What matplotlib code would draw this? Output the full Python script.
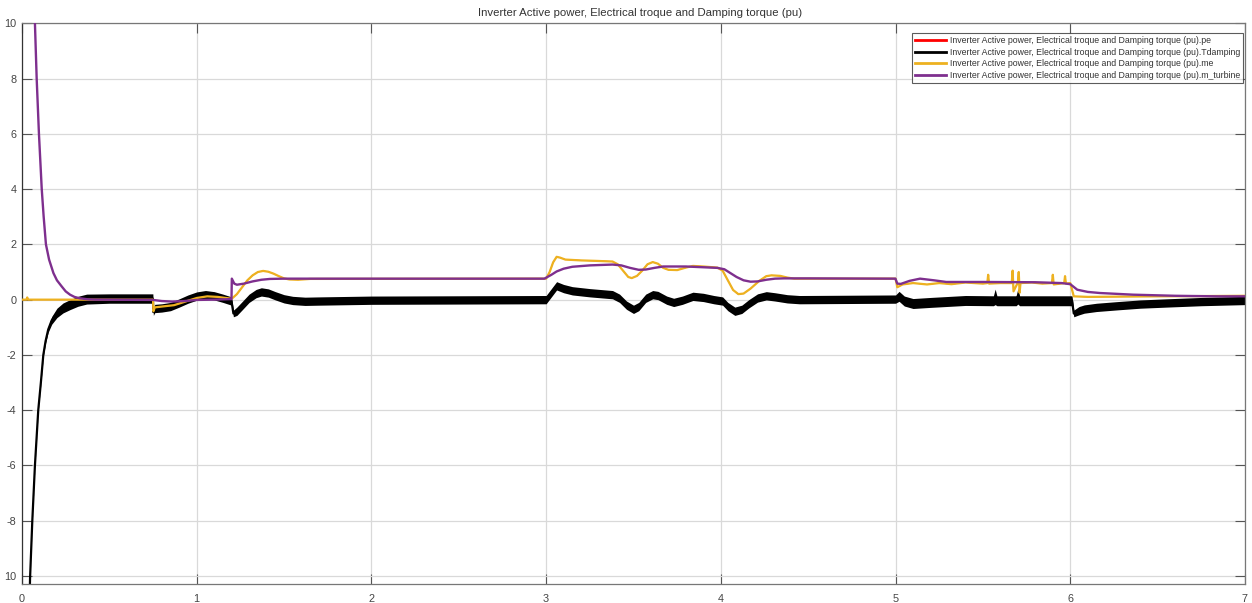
import matplotlib
matplotlib.use("Agg")
import matplotlib.pyplot as plt
import numpy as np

plt.rcParams['font.family'] = ['Liberation Sans', 'DejaVu Sans']

TITLE = "Inverter Active power, Electrical troque and Damping torque (pu)"
LABELS = [TITLE + ".pe", TITLE + ".Tdamping", TITLE + ".me", TITLE + ".m_turbine"]

x_ticks = [0, 1, 2, 3, 4, 5, 6, 7]
y_ticks = [-10, -8, -6, -4, -2, 0, 2, 4, 6, 8, 10]
y_tick_labels = ["10", "-8", "-6", "-4", "-2", "0", "2", "4", "6", "8", "10"]

# m_turbine
t_turb = [0.064, 0.074, 0.084, 0.097, 0.105, 0.113, 0.124, 0.137, 0.155, 0.18, 0.20,
          0.227, 0.25, 0.275, 0.30, 0.33, 0.38, 0.42, 0.75, 0.80, 0.86, 0.93, 1.00,
          1.10, 1.199, 1.201, 1.215, 1.23, 1.27, 1.32, 1.37, 1.42, 1.50, 2.99, 3.03,
          3.06, 3.10, 3.15, 3.25, 3.38, 3.43, 3.48, 3.53, 3.57, 3.62, 3.67, 3.80,
          3.98, 4.02, 4.05, 4.09, 4.13, 4.17, 4.21, 4.26, 4.31, 4.36, 4.50, 4.999,
          5.01, 5.03, 5.08, 5.14, 5.22, 5.29, 5.50, 5.80, 5.95, 6.00, 6.04, 6.10,
          6.17, 6.36, 6.60, 6.84, 7.00]
m_turbine = [11.0, 10.0, 8.0, 6.0, 5.0, 4.0, 3.0, 2.0, 1.45, 0.96, 0.70,
             0.48, 0.30, 0.18, 0.10, 0.05, 0.01, 0.0, -0.01, -0.05, -0.07, -0.05, -0.01,
             0.0, 0.02, 0.76, 0.58, 0.54, 0.58, 0.66, 0.72, 0.75, 0.76, 0.76, 0.90,
             1.02, 1.12, 1.19, 1.24, 1.27, 1.24, 1.15, 1.08, 1.09, 1.15, 1.20, 1.20,
             1.15, 1.10, 0.98, 0.82, 0.70, 0.65, 0.66, 0.72, 0.76, 0.77, 0.77, 0.76,
             0.58, 0.57, 0.68, 0.76, 0.70, 0.64, 0.64, 0.63, 0.60, 0.56, 0.36, 0.28,
             0.24, 0.18, 0.14, 0.12, 0.12]

# me
t_me = [0.0, 0.025, 0.03, 0.035, 0.75, 0.752, 0.76, 0.80, 0.87, 0.93, 1.00, 1.06,
        1.12, 1.19, 1.20, 1.23, 1.26, 1.29, 1.32, 1.35, 1.38, 1.41, 1.44, 1.47,
        1.50, 1.53, 1.58, 1.65, 3.00, 3.02, 3.04, 3.06, 3.08, 3.11, 3.20, 3.30,
        3.38, 3.41, 3.44, 3.47, 3.49, 3.52, 3.55, 3.58, 3.61, 3.64, 3.67, 3.70,
        3.75, 3.80, 3.84, 3.90, 3.98, 4.01, 4.04, 4.07, 4.10, 4.13, 4.17, 4.22,
        4.26, 4.29, 4.34, 4.38, 4.42, 5.00, 5.01, 5.04, 5.10, 5.18, 5.25, 5.32,
        5.40, 5.50, 5.525, 5.53, 5.535, 5.60, 5.665, 5.67, 5.675, 5.70, 5.705,
        5.71, 5.715, 5.78, 5.84, 5.895, 5.90, 5.905, 5.965, 5.97, 5.975, 6.00,
        6.02, 6.10, 6.50, 7.00]
me = [0.0, 0.0, 0.08, 0.0, 0.0, -0.42, -0.28, -0.25, -0.20, -0.08, 0.06, 0.12,
      0.10, 0.04, 0.03, 0.20, 0.45, 0.70, 0.88, 1.00, 1.04, 1.01, 0.94, 0.85,
      0.77, 0.73, 0.72, 0.75, 0.76, 1.00, 1.35, 1.55, 1.52, 1.45, 1.42, 1.40,
      1.38, 1.28, 1.05, 0.82, 0.78, 0.86, 1.05, 1.28, 1.36, 1.30, 1.15, 1.08,
      1.07, 1.16, 1.22, 1.20, 1.16, 1.05, 0.70, 0.35, 0.20, 0.22, 0.40, 0.68,
      0.85, 0.88, 0.86, 0.80, 0.76, 0.76, 0.45, 0.55, 0.60, 0.55, 0.60, 0.56,
      0.62, 0.58, 0.60, 0.90, 0.58, 0.60, 0.60, 1.05, 0.30, 0.62, 1.00,
      0.25, 0.60, 0.62, 0.58, 0.60, 0.90, 0.55, 0.60, 0.85, 0.58, 0.60,
      0.12, 0.10, 0.12, 0.14]

# pe lies on top of me
t_pe = list(t_me)
pe = list(me)

# Tdamping: centre value and half thickness of the oscillation band
t_damp = [0.040, 0.046, 0.059, 0.074, 0.093, 0.108, 0.122, 0.135, 0.15, 0.17,
          0.20, 0.235, 0.275, 0.32, 0.37, 0.50, 0.749, 0.752, 0.76, 0.80, 0.85,
          0.90, 0.95, 1.00, 1.05, 1.10, 1.15, 1.199, 1.21, 1.23, 1.26, 1.30, 1.34,
          1.37, 1.41, 1.45, 1.50, 1.55, 1.62, 1.70, 2.00, 3.00, 3.03, 3.06, 3.10,
          3.15, 3.25, 3.38, 3.42, 3.46, 3.50, 3.53, 3.57, 3.61, 3.64, 3.69, 3.73,
          3.78, 3.84, 3.90, 3.96, 4.01, 4.04, 4.08, 4.12, 4.16, 4.21, 4.26, 4.31,
          4.38, 4.45, 5.00, 5.02, 5.05, 5.10, 5.20, 5.40, 5.56, 5.57, 5.58, 5.69,
          5.70, 5.71, 5.90, 6.01, 6.02, 6.05, 6.08, 6.15, 6.27, 6.40, 6.55, 6.75,
          7.00]
tdamping = [-12.0, -10.1, -8.0, -6.0, -4.0, -3.0, -2.0, -1.5, -1.08, -0.75,
            -0.48, -0.30, -0.18, -0.06, 0.02, 0.04, 0.04, -0.45, -0.32, -0.30, -0.25,
            -0.12, 0.02, 0.13, 0.18, 0.14, 0.05, -0.05, -0.50, -0.42, -0.22, 0.05, 0.22,
            0.28, 0.24, 0.14, 0.03, -0.03, -0.06, -0.05, -0.02, 0.0, 0.25, 0.50, 0.40,
            0.32, 0.25, 0.18, 0.05, -0.20, -0.35, -0.25, 0.05, 0.18, 0.15, -0.02, -0.10,
            -0.02, 0.12, 0.08, 0.0, -0.05, -0.25, -0.42, -0.35, -0.15, 0.06, 0.14, 0.10,
            0.03, 0.0, 0.02, 0.12, -0.05, -0.14, -0.10, -0.03, -0.04, 0.10, -0.04, -0.04,
            0.12, -0.04, -0.04, -0.04, -0.50, -0.40, -0.34, -0.28, -0.22, -0.16, -0.12, -0.07,
            -0.03]
damp_band = [0.02, 0.02, 0.02, 0.03, 0.03, 0.04, 0.05, 0.07, 0.10, 0.14,
             0.17, 0.18, 0.18, 0.18, 0.18, 0.17, 0.17, 0.12, 0.15, 0.15, 0.15,
             0.15, 0.15, 0.15, 0.15, 0.15, 0.15, 0.15, 0.12, 0.15, 0.15, 0.15, 0.15,
             0.15, 0.15, 0.15, 0.15, 0.15, 0.15, 0.15, 0.15, 0.15, 0.15, 0.15, 0.15,
             0.15, 0.15, 0.15, 0.15, 0.15, 0.15, 0.15, 0.15, 0.15, 0.15, 0.15, 0.15,
             0.15, 0.15, 0.15, 0.15, 0.15, 0.15, 0.15, 0.15, 0.15, 0.15, 0.15, 0.15,
             0.15, 0.15, 0.15, 0.18, 0.18, 0.18, 0.18, 0.18, 0.18, 0.28, 0.18, 0.18,
             0.28, 0.18, 0.18, 0.18, 0.12, 0.15, 0.15, 0.15, 0.15, 0.15, 0.15, 0.15,
             0.15]

RED = "#FF0000"
BLACK = "#000000"
YELLOW = "#EDB120"
PURPLE = "#7E2F8E"

fig = plt.figure(figsize=(12.52, 6.03), dpi=100)
ax = fig.add_axes([22 / 1252, 1 - 584.3 / 603, (1245 - 22) / 1252, (584.3 - 23.3) / 603])

td = np.array(tdamping)
bw = np.array(damp_band)
ax.fill_between(t_damp, td - bw, td + bw, color=BLACK, lw=0, zorder=2)
ax.plot(t_damp, tdamping, color=BLACK, lw=1.6, zorder=2)
ax.plot(t_pe, pe, color=RED, lw=0.6, zorder=3)
ax.plot(t_me, me, color=YELLOW, lw=1.6, zorder=4)
ax.plot(t_turb, m_turbine, color=PURPLE, lw=1.7, zorder=5)

ax.set_xlim(0, 7)
ax.set_ylim(-10.3, 10)
ax.set_xticks(x_ticks)
ax.set_xticklabels([str(v) for v in x_ticks])
ax.set_yticks(y_ticks)
ax.set_yticklabels(y_tick_labels)
ax.grid(True, color="#d9d9d9", lw=0.9)
ax.set_axisbelow(True)

ax.tick_params(axis="both", direction="in", length=7, width=0.8, color="#555555",
               labelcolor="#444444", labelsize=7.8, top=True, right=True)
ax.tick_params(axis="x", pad=7)
ax.tick_params(axis="y", pad=4)
for s in ax.spines.values():
    s.set_color("#777777")
    s.set_linewidth(0.9)
ax.spines["left"].set_color("#333333")

ax.set_title(TITLE, fontsize=8.2, color="#333333", pad=5, x=0.505)

handles = [
    plt.Line2D([], [], color=RED, lw=2.0),
    plt.Line2D([], [], color=BLACK, lw=2.0),
    plt.Line2D([], [], color=YELLOW, lw=2.0),
    plt.Line2D([], [], color=PURPLE, lw=2.0),
]
leg = ax.legend(handles, LABELS, loc="upper right", bbox_to_anchor=(0.9985, 0.982),
                fontsize=6.3, frameon=True, fancybox=False, borderaxespad=0,
                handlelength=3.6, handletextpad=0.4, labelspacing=0.28,
                borderpad=0.35)
leg.get_frame().set_edgecolor("#333333")
leg.get_frame().set_linewidth(0.8)
for txt in leg.get_texts():
    txt.set_color("#333333")

fig.savefig("out.png", dpi=100)
